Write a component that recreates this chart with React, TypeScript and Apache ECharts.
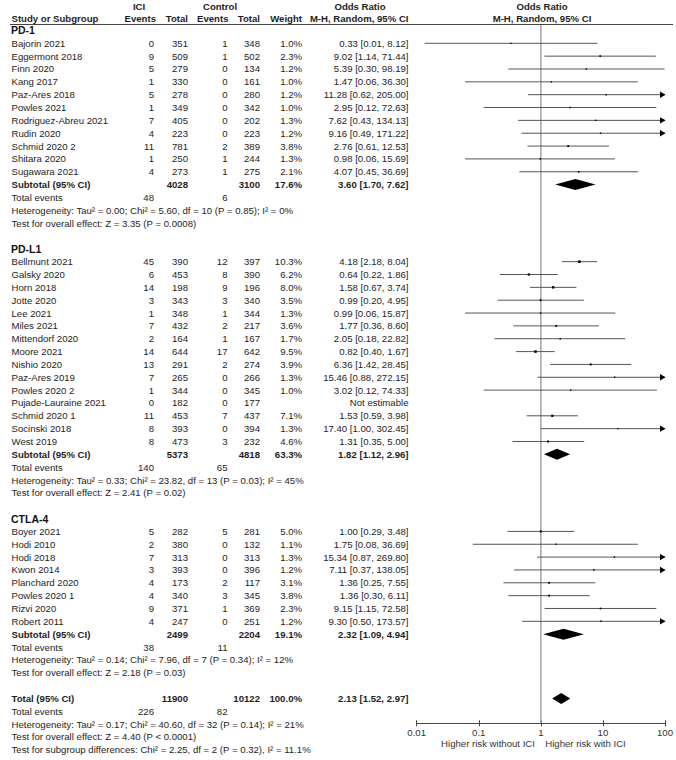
import React, { useEffect, useRef } from "react";
import * as echarts from "echarts";

// ---------------- DATA ----------------
const groupTitles = ["PD-1", "PD-L1", "CTLA-4"];

const pd1Studies = ["Bajorin 2021", "Eggermont 2018", "Finn 2020", "Kang 2017", "Paz-Ares 2018", "Powles 2021", "Rodriguez-Abreu 2021", "Rudin 2020", "Schmid 2020 2", "Shitara 2020", "Sugawara 2021"];
const pd1IciEvents = [0, 9, 5, 1, 5, 1, 7, 4, 11, 1, 4];
const pd1IciTotal = [351, 509, 279, 330, 278, 349, 405, 223, 781, 250, 273];
const pd1CtlEvents = [1, 1, 0, 0, 0, 0, 0, 0, 2, 1, 1];
const pd1CtlTotal = [348, 502, 134, 161, 280, 342, 202, 223, 389, 244, 275];
const pd1Weight = [1.0, 2.3, 1.2, 1.0, 1.2, 1.0, 1.3, 1.2, 3.8, 1.3, 2.1];
const pd1OR = [0.33, 9.02, 5.39, 1.47, 11.28, 2.95, 7.62, 9.16, 2.76, 0.98, 4.07];
const pd1Lo = [0.0134, 1.14, 0.3, 0.06, 0.62, 0.12, 0.43, 0.49, 0.61, 0.06, 0.45];
const pd1Hi = [8.12, 71.44, 98.19, 36.3, 205.0, 72.63, 134.13, 171.22, 12.53, 15.69, 36.69];

const pdl1Studies = ["Bellmunt 2021", "Galsky 2020", "Horn 2018", "Jotte 2020", "Lee 2021", "Miles 2021", "Mittendorf 2020", "Moore 2021", "Nishio 2020", "Paz-Ares 2019", "Powles 2020 2", "Pujade-Lauraine 2021", "Schmid 2020 1", "Socinski 2018", "West 2019"];
const pdl1IciEvents = [45, 6, 14, 3, 1, 7, 2, 14, 13, 7, 1, 0, 11, 8, 8];
const pdl1IciTotal = [390, 453, 198, 343, 348, 432, 164, 644, 291, 265, 344, 182, 453, 393, 473];
const pdl1CtlEvents = [12, 8, 9, 3, 1, 2, 1, 17, 2, 0, 0, 0, 7, 0, 3];
const pdl1CtlTotal = [397, 390, 196, 340, 344, 217, 167, 642, 274, 266, 345, 177, 437, 394, 232];
const pdl1Weight = [10.3, 6.2, 8.0, 3.5, 1.3, 3.6, 1.7, 9.5, 3.9, 1.3, 1.0, null, 7.1, 1.3, 4.6];
const pdl1OR = [4.18, 0.64, 1.58, 0.99, 0.99, 1.77, 2.05, 0.82, 6.36, 15.46, 3.02, null, 1.53, 17.4, 1.31];
const pdl1Lo = [2.18, 0.22, 0.67, 0.2, 0.06, 0.36, 0.18, 0.4, 1.42, 0.88, 0.12, null, 0.59, 1.0, 0.35];
const pdl1Hi = [8.04, 1.86, 3.74, 4.95, 15.87, 8.6, 22.82, 1.67, 28.45, 272.15, 74.33, null, 3.98, 302.45, 5.0];

const ctla4Studies = ["Boyer 2021", "Hodi 2010", "Hodi 2018", "Kwon 2014", "Planchard 2020", "Powles 2020 1", "Rizvi 2020", "Robert 2011"];
const ctla4IciEvents = [5, 2, 7, 3, 4, 4, 9, 4];
const ctla4IciTotal = [282, 380, 313, 393, 173, 340, 371, 247];
const ctla4CtlEvents = [5, 0, 0, 0, 2, 3, 1, 0];
const ctla4CtlTotal = [281, 132, 313, 396, 117, 345, 369, 251];
const ctla4Weight = [5.0, 1.1, 1.3, 1.2, 3.1, 3.8, 2.3, 1.2];
const ctla4OR = [1.0, 1.75, 15.34, 7.11, 1.36, 1.36, 9.15, 9.3];
const ctla4Lo = [0.29, 0.08, 0.87, 0.37, 0.25, 0.3, 1.15, 0.5];
const ctla4Hi = [3.48, 36.69, 269.8, 138.05, 7.55, 6.11, 72.58, 173.57];

const subtotalIciTotal = [4028, 5373, 2499];
const subtotalCtlTotal = [3100, 4818, 2204];
const subtotalWeight = [17.6, 63.3, 19.1];
const subtotalOR = [3.6, 1.82, 2.32];
const subtotalLo = [1.7, 1.12, 1.09];
const subtotalHi = [7.62, 2.96, 4.94];
const subtotalIciEvents = [48, 140, 38];
const subtotalCtlEvents = [6, 65, 11];
const heterogeneityTexts = [
  "Heterogeneity: Tau² = 0.00; Chi² = 5.60, df = 10 (P = 0.85); I² = 0%",
  "Heterogeneity: Tau² = 0.33; Chi² = 23.82, df = 13 (P = 0.03); I² = 45%",
  "Heterogeneity: Tau² = 0.14; Chi² = 7.96, df = 7 (P = 0.34); I² = 12%",
];
const overallEffectTexts = [
  "Test for overall effect: Z = 3.35 (P = 0.0008)",
  "Test for overall effect: Z = 2.41 (P = 0.02)",
  "Test for overall effect: Z = 2.18 (P = 0.03)",
];

const totalIciTotal = 11900;
const totalCtlTotal = 10122;
const totalWeight = 100.0;
const totalOR = 2.13;
const totalLo = 1.52;
const totalHi = 2.97;
const totalIciEvents = 226;
const totalCtlEvents = 82;
const totalHeterogeneity = "Heterogeneity: Tau² = 0.17; Chi² = 40.60, df = 32 (P = 0.14); I² = 21%";
const totalOverallEffect = "Test for overall effect: Z = 4.40 (P < 0.0001)";
const subgroupDifferences = "Test for subgroup differences: Chi² = 2.25, df = 2 (P = 0.32), I² = 11.1%";

const axisTicks = [0.01, 0.1, 1, 10, 100];
const favoursLeft = "Higher risk without ICI";
const favoursRight = "Higher risk with ICI";

// ---------------- LAYOUT ----------------
const W = 676;
const H = 760;
const Y0 = 43.3; // pixel y of first study row
const P = 12.845; // row pitch
const rowY = (i: number) => Y0 + i * P;
const PLOT_LEFT = 416.7;
const PLOT_RIGHT = 665;
const PLOT_TOP = 25;
const AXIS_Y = 723.3;
const yMin = (PLOT_TOP - Y0) / P;
const yMax = (AXIS_Y - Y0) / P;

const COL = { name: 11.5, iciE: 154, iciT: 188, ctlE: 227.5, ctlT: 260, wt: 302, or: 408.5 };
const FONT = '"Liberation Sans", Arial, sans-serif';
const FS = 9.6;
const TXT = "#1e1e1e";

function txt(text: string, x: number, y: number, align = "left", bold = false, size = FS, family = FONT, color = TXT) {
  return {
    type: "text",
    x,
    y,
    silent: true,
    style: {
      text,
      fill: color,
      fontSize: size,
      fontFamily: family,
      fontWeight: bold ? "bold" : "normal",
      textAlign: align,
      textVerticalAlign: "middle",
    },
  };
}

const fmtOR = (o: number, l: number, h: number) => `${o.toFixed(2)} [${l.toFixed(2)}, ${h.toFixed(2)}]`;

type Group = {
  studies: string[];
  iciE: number[];
  iciT: number[];
  ctlE: number[];
  ctlT: number[];
  wt: (number | null)[];
  or: (number | null)[];
  lo: (number | null)[];
  hi: (number | null)[];
};

const groups: Group[] = [
  { studies: pd1Studies, iciE: pd1IciEvents, iciT: pd1IciTotal, ctlE: pd1CtlEvents, ctlT: pd1CtlTotal, wt: pd1Weight, or: pd1OR, lo: pd1Lo, hi: pd1Hi },
  { studies: pdl1Studies, iciE: pdl1IciEvents, iciT: pdl1IciTotal, ctlE: pdl1CtlEvents, ctlT: pdl1CtlTotal, wt: pdl1Weight, or: pdl1OR, lo: pdl1Lo, hi: pdl1Hi },
  { studies: ctla4Studies, iciE: ctla4IciEvents, iciT: ctla4IciTotal, ctlE: ctla4CtlEvents, ctlT: ctla4CtlTotal, wt: ctla4Weight, or: ctla4OR, lo: ctla4Lo, hi: ctla4Hi },
];

function buildOption() {
  const graphics: any[] = [];
  const studyData: number[][] = [];
  const diamondData: number[][] = [];

  // header
  graphics.push(txt("ICI", 139, 6, "center", true));
  graphics.push(txt("Control", 220, 6, "center", true));
  graphics.push(txt("Odds Ratio", 360, 6, "center", true));
  graphics.push(txt("Odds Ratio", 542, 6, "center", true));
  graphics.push(txt("Study or Subgroup", COL.name, 18, "left", true));
  graphics.push(txt("Events", 156, 18, "right", true));
  graphics.push(txt("Total", COL.iciT, 18, "right", true));
  graphics.push(txt("Events", 228.5, 18, "right", true));
  graphics.push(txt("Total", COL.ctlT, 18, "right", true));
  graphics.push(txt("Weight", COL.wt, 18, "right", true));
  graphics.push(txt("M-H, Random, 95% CI", COL.or, 18, "right", true));
  graphics.push(txt("M-H, Random, 95% CI", 542, 18, "center", true));
  graphics.push({
    type: "line",
    silent: true,
    shape: { x1: 10, y1: 24.5, x2: 673, y2: 24.5 },
    style: { stroke: "#444", lineWidth: 1 },
  });

  let cursor = 0;
  groups.forEach((g, gi) => {
    graphics.push(txt(groupTitles[gi], COL.name - 0.5, rowY(cursor - 1), "left", true, 10.5, FONT, "#111"));
    g.studies.forEach((s, k) => {
      const r = cursor + k;
      const y = rowY(r);
      graphics.push(txt(s, COL.name, y));
      graphics.push(txt(String(g.iciE[k]), COL.iciE, y, "right"));
      graphics.push(txt(String(g.iciT[k]), COL.iciT, y, "right"));
      graphics.push(txt(String(g.ctlE[k]), COL.ctlE, y, "right"));
      graphics.push(txt(String(g.ctlT[k]), COL.ctlT, y, "right"));
      const w = g.wt[k];
      const o = g.or[k];
      if (w != null) graphics.push(txt(`${w.toFixed(1)}%`, COL.wt, y, "right"));
      if (o != null) {
        graphics.push(txt(fmtOR(o, g.lo[k] as number, g.hi[k] as number), COL.or, y, "right"));
        studyData.push([g.lo[k] as number, g.hi[k] as number, o, r, w as number]);
      } else {
        graphics.push(txt("Not estimable", COL.or, y, "right"));
      }
    });
    let r = cursor + g.studies.length;
    let y = rowY(r);
    graphics.push(txt("Subtotal (95% CI)", COL.name, y, "left", true));
    graphics.push(txt(String(subtotalIciTotal[gi]), COL.iciT, y, "right", true));
    graphics.push(txt(String(subtotalCtlTotal[gi]), COL.ctlT, y, "right", true));
    graphics.push(txt(`${subtotalWeight[gi].toFixed(1)}%`, COL.wt, y, "right", true));
    graphics.push(txt(fmtOR(subtotalOR[gi], subtotalLo[gi], subtotalHi[gi]), COL.or, y, "right", true));
    diamondData.push([subtotalLo[gi], subtotalHi[gi], subtotalOR[gi], r]);
    r += 1;
    y = rowY(r);
    graphics.push(txt("Total events", COL.name, y));
    graphics.push(txt(String(subtotalIciEvents[gi]), COL.iciE, y, "right"));
    graphics.push(txt(String(subtotalCtlEvents[gi]), COL.ctlE, y, "right"));
    r += 1;
    graphics.push(txt(heterogeneityTexts[gi], COL.name, rowY(r)));
    r += 1;
    graphics.push(txt(overallEffectTexts[gi], COL.name, rowY(r)));
    cursor = gi < groups.length - 1 ? r + 3 : r + 2;
  });

  // overall total
  let r = cursor;
  let y = rowY(r);
  graphics.push(txt("Total (95% CI)", COL.name, y, "left", true));
  graphics.push(txt(String(totalIciTotal), COL.iciT, y, "right", true));
  graphics.push(txt(String(totalCtlTotal), COL.ctlT, y, "right", true));
  graphics.push(txt(`${totalWeight.toFixed(1)}%`, COL.wt, y, "right", true));
  graphics.push(txt(fmtOR(totalOR, totalLo, totalHi), COL.or, y, "right", true));
  diamondData.push([totalLo, totalHi, totalOR, r]);
  r += 1;
  y = rowY(r);
  graphics.push(txt("Total events", COL.name, y));
  graphics.push(txt(String(totalIciEvents), COL.iciE, y, "right"));
  graphics.push(txt(String(totalCtlEvents), COL.ctlE, y, "right"));
  graphics.push(txt(totalHeterogeneity, COL.name, rowY(r + 1)));
  graphics.push(txt(totalOverallEffect, COL.name, rowY(r + 2)));
  graphics.push(txt(subgroupDifferences, COL.name, rowY(r + 3)));

  graphics.push(txt(favoursLeft, 488, 743.3, "center", false, FS, FONT, "#333"));
  graphics.push(txt(favoursRight, 585.5, 743.3, "center", false, FS, FONT, "#333"));

  const fmtTick = (v: number) => String(Number(Number(v).toPrecision(3)));

  const baseX = {
    type: "log",
    logBase: 10,
    min: axisTicks[0],
    max: axisTicks[axisTicks.length - 1],
    position: "bottom",
    splitLine: { show: false },
    minorTick: { show: false },
  };

  return {
    animation: false,
    backgroundColor: "#ffffff",
    grid: {
      left: PLOT_LEFT,
      right: W - PLOT_RIGHT,
      top: PLOT_TOP,
      bottom: H - AXIS_Y,
      containLabel: false,
      outerBoundsMode: "none",
    },
    xAxis: [
      {
        ...baseX,
        axisLine: { show: true, onZero: false, lineStyle: { color: "#444", width: 1 } },
        axisTick: { show: true, length: 3, lineStyle: { color: "#444", width: 1 } },
        axisLabel: {
          show: true,
          margin: 4,
          fontSize: FS,
          fontFamily: FONT,
          color: "#333",
          formatter: fmtTick,
        },
      },
      {
        ...baseX,
        axisLine: { show: false, onZero: false },
        axisTick: { show: true, inside: true, length: 3, lineStyle: { color: "#444", width: 1 } },
        axisLabel: { show: false },
      },
    ],
    yAxis: {
      type: "value",
      min: yMin,
      max: yMax,
      inverse: true,
      show: false,
      splitLine: { show: false },
    },
    graphic: { elements: graphics },
    series: [
      {
        type: "line",
        silent: true,
        symbol: "none",
        data: [
          [1, yMin],
          [1, yMax],
        ],
        lineStyle: { color: "#a3a3a3", width: 1.5 },
        z: 1,
      },
      {
        type: "custom",
        silent: true,
        z: 3,
        encode: { x: [0, 1, 2], y: 3 },
        data: studyData,
        renderItem: (params: any, api: any) => {
          const lo = api.value(0);
          const hi = api.value(1);
          const or = api.value(2);
          const row = api.value(3);
          const w = api.value(4);
          const p1 = api.coord([Math.max(lo, axisTicks[0]), row]);
          const p2 = api.coord([Math.min(hi, axisTicks[axisTicks.length - 1]), row]);
          const pc = api.coord([or, row]);
          const s = 0.8 + Math.sqrt(w) * 0.55;
          const children: any[] = [
            {
              type: "line",
              shape: { x1: p1[0], y1: p1[1], x2: p2[0], y2: p2[1] },
              style: { stroke: "#555", lineWidth: 1 },
            },
            {
              type: "rect",
              shape: { x: pc[0] - s / 2, y: pc[1] - s / 2, width: s, height: s },
              style: { fill: "#000" },
            },
          ];
          if (hi > axisTicks[axisTicks.length - 1]) {
            children.push({
              type: "polygon",
              shape: {
                points: [
                  [p2[0] - 5, p2[1] - 3.2],
                  [p2[0] + 0.5, p2[1]],
                  [p2[0] - 5, p2[1] + 3.2],
                ],
              },
              style: { fill: "#000" },
            });
          }
          return { type: "group", children };
        },
      },
      {
        type: "custom",
        silent: true,
        z: 3,
        encode: { x: [0, 1, 2], y: 3 },
        data: diamondData,
        renderItem: (params: any, api: any) => {
          const lo = api.coord([api.value(0), api.value(3)]);
          const hi = api.coord([api.value(1), api.value(3)]);
          const c = api.coord([api.value(2), api.value(3)]);
          const h = 5.5;
          return {
            type: "polygon",
            shape: {
              points: [
                [lo[0], lo[1]],
                [c[0], c[1] - h],
                [hi[0], hi[1]],
                [c[0], c[1] + h],
              ],
            },
            style: { fill: "#000" },
          };
        },
      },
    ],
  };
}

export default function App() {
  const ref = useRef<HTMLDivElement>(null);
  useEffect(() => {
    if (!ref.current) return;
    const chart = echarts.init(ref.current, undefined, { renderer: "svg" });
    chart.setOption(buildOption() as any);
    return () => chart.dispose();
  }, []);
  return (
    <div
      ref={ref}
      style={{ position: "absolute", left: 0, top: 0, width: W, height: H, background: "#fff" }}
    />
  );
}
